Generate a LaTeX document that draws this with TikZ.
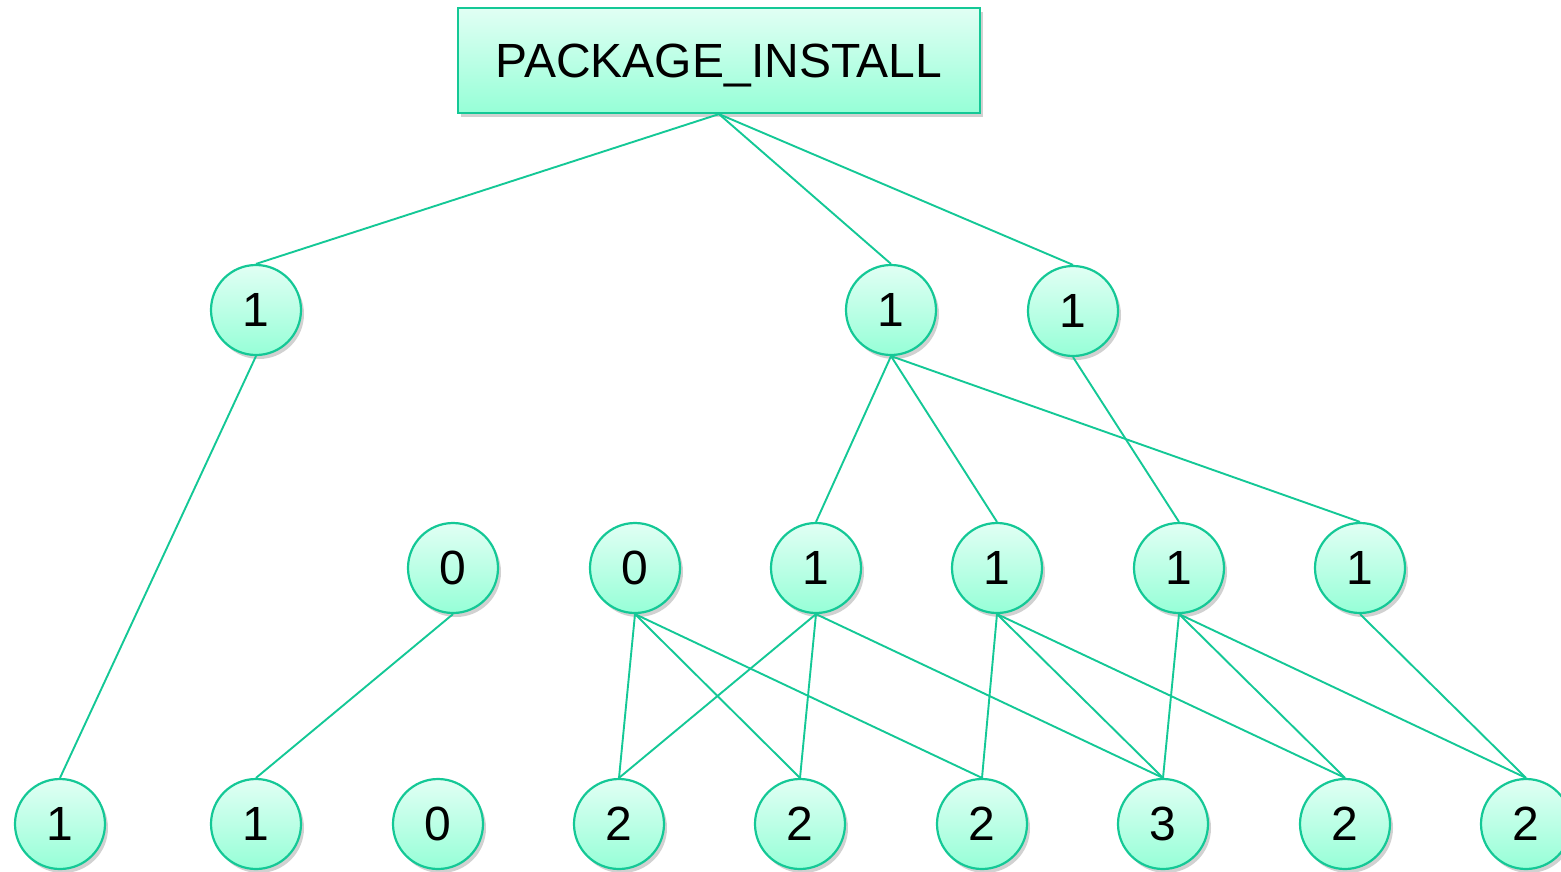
\documentclass[tikz,border=0pt]{standalone}
\usepackage{fontspec}
\setmainfont{Liberation Sans}
\usetikzlibrary{shadows}
\definecolor{edge}{RGB}{20,200,150}
\definecolor{topc}{RGB}{225,255,244}
\definecolor{botc}{RGB}{150,255,215}
\begin{document}
\begin{tikzpicture}[x=1pt,y=-1pt,
  nodebase/.style={draw=edge,line width=2.2pt,top color=topc,bottom color=botc,
    drop shadow={shadow xshift=3pt,shadow yshift=-4pt,opacity=0.3,fill=black!60},
    font=\fontsize{48}{52}\selectfont,inner sep=0pt},
  cnode/.style={nodebase,circle,minimum size=90pt},
  bnode/.style={nodebase,rectangle,minimum width=522pt,minimum height=105pt,text height=34pt,text depth=0pt},
  link/.style={draw=edge,line width=1.9pt}]
\useasboundingbox (0,0) rectangle (1561,871);
\node[bnode] (root) at (719,60.5) {PACKAGE\_INSTALL};
\node[cnode] (a1) at (256,310) {1};
\node[cnode] (a2) at (891,310) {1};
\node[cnode] (a3) at (1073,311) {1};
\node[cnode] (m1) at (453,568) {0};
\node[cnode] (m2) at (635,568) {0};
\node[cnode] (m3) at (816,568) {1};
\node[cnode] (m4) at (997,568) {1};
\node[cnode] (m5) at (1179,568) {1};
\node[cnode] (m6) at (1360,568) {1};
\node[cnode] (b1) at (60,824) {1};
\node[cnode] (b2) at (256,824) {1};
\node[cnode] (b3) at (438,824) {0};
\node[cnode] (b4) at (619,824) {2};
\node[cnode] (b5) at (800,824) {2};
\node[cnode] (b6) at (982,824) {2};
\node[cnode] (b7) at (1163,824) {3};
\node[cnode] (b8) at (1345,824) {2};
\node[cnode] (b9) at (1526,824) {2};
\foreach \c in {a1,a2,a3} \draw[link] (root.south) -- (\c.north);
\draw[link] (a1.south) -- (b1.north);
\foreach \c in {m3,m4,m6} \draw[link] (a2.south) -- (\c.north);
\draw[link] (a3.south) -- (m5.north);
\draw[link] (m1.south) -- (b2.north);
\foreach \c in {b4,b5,b6} \draw[link] (m2.south) -- (\c.north);
\foreach \c in {b4,b5,b7} \draw[link] (m3.south) -- (\c.north);
\foreach \c in {b6,b7,b8} \draw[link] (m4.south) -- (\c.north);
\foreach \c in {b7,b8,b9} \draw[link] (m5.south) -- (\c.north);
\draw[link] (m6.south) -- (b9.north);
\end{tikzpicture}
\end{document}
